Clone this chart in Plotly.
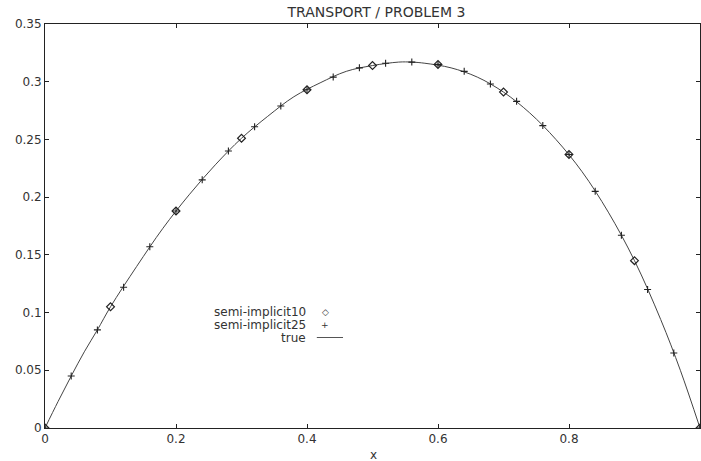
import plotly.graph_objects as go

# ---- data ----
x10 = [0.0, 0.1, 0.2, 0.3, 0.4, 0.5, 0.6, 0.7, 0.8, 0.9, 1.0]
y10 = [0.0, 0.105, 0.188, 0.251, 0.293, 0.314, 0.315, 0.291, 0.237, 0.145, 0.0]

x25 = [0.0, 0.04, 0.08, 0.12, 0.16, 0.20, 0.24, 0.28, 0.32, 0.36, 0.40, 0.44, 0.48,
       0.52, 0.56, 0.60, 0.64, 0.68, 0.72, 0.76, 0.80, 0.84, 0.88, 0.92, 0.96, 1.0]
y25 = [0.0, 0.045, 0.085, 0.122, 0.157, 0.188, 0.215, 0.240, 0.261, 0.279, 0.293, 0.304, 0.312,
       0.316, 0.317, 0.315, 0.309, 0.298, 0.283, 0.262, 0.237, 0.205, 0.167, 0.120, 0.065, 0.0]

xtrue = [0.0, 0.02, 0.04, 0.06, 0.08, 0.10, 0.14, 0.18, 0.22, 0.26, 0.30, 0.34, 0.38, 0.42,
         0.46, 0.50, 0.54, 0.56, 0.58, 0.62, 0.66, 0.70, 0.74, 0.78, 0.82, 0.86, 0.90, 0.94,
         0.97, 1.0]
ytrue = [0.0, 0.023, 0.045, 0.066, 0.085, 0.105, 0.140, 0.173, 0.202, 0.228, 0.251, 0.270, 0.287,
         0.299, 0.309, 0.314, 0.317, 0.317, 0.316, 0.312, 0.304, 0.291, 0.273, 0.250, 0.222, 0.187,
         0.145, 0.094, 0.050, 0.0]

xticks = [0, 0.2, 0.4, 0.6, 0.8]
xticktext = ["0", "0.2", "0.4", "0.6", "0.8"]
yticks = [0, 0.05, 0.1, 0.15, 0.2, 0.25, 0.3, 0.35]
yticktext = ["0", "0.05", "0.1", "0.15", "0.2", "0.25", "0.3", "0.35"]
legend_labels = ["semi-implicit10", "semi-implicit25", "true"]

FONT = "DejaVu Sans, Verdana, sans-serif"
INK = "#333333"

fig = go.Figure()
fig.add_trace(go.Scatter(x=xtrue, y=ytrue, mode="lines", line=dict(color="#444444", width=1, shape="spline"),
                         showlegend=False, hoverinfo="skip"))
fig.add_trace(go.Scatter(x=x10, y=y10, mode="markers",
                         marker=dict(symbol="diamond-open", size=6, color="#222222", line=dict(width=1.2)),
                         showlegend=False))
fig.add_trace(go.Scatter(x=x25, y=y25, mode="markers",
                         marker=dict(symbol="cross-thin-open", size=5, color="#222222",
                                     line=dict(width=1.1, color="#222222")),
                         showlegend=False))

# legend built as right-aligned text with the symbol after it
leg_y = [0.288, 0.256, 0.224]
leg_sym = ["◇", "+", ""]
for lab, yy, sym in zip(legend_labels, leg_y, leg_sym):
    fig.add_annotation(x=0.401, y=yy, xref="paper", yref="paper", text=lab, showarrow=False,
                       xanchor="right", yanchor="middle", font=dict(family=FONT, size=12, color=INK))
    if sym:
        fig.add_annotation(x=0.428, y=yy, xref="paper", yref="paper", text=sym, showarrow=False,
                           xanchor="center", yanchor="middle", font=dict(family="DejaVu Sans", size=9, color=INK))
fig.add_shape(type="line", xref="paper", yref="paper", x0=0.415, x1=0.455, y0=leg_y[2], y1=leg_y[2],
              line=dict(color="#555555", width=1))

# x axis title
fig.add_annotation(x=0.501, y=-0.067, xref="paper", yref="paper", text="x", showarrow=False,
                   xanchor="center", yanchor="middle", font=dict(family=FONT, size=12, color=INK))

fig.update_layout(
    width=701, height=461,
    margin=dict(l=45, r=1, t=24, b=33),
    paper_bgcolor="white", plot_bgcolor="white",
    showlegend=False,
    title=dict(text="TRANSPORT / PROBLEM 3", x=0.537, xanchor="center", y=0.974, yanchor="middle",
               font=dict(family=FONT, size=14, color=INK)),
    font=dict(family=FONT, size=12, color=INK),
)
fig.update_xaxes(range=[0, 1], tickvals=xticks, ticktext=xticktext,
                 ticks="inside", ticklen=4, tickcolor="#222222", showgrid=False, zeroline=False,
                 showline=True, linecolor="#222222", linewidth=1, mirror="ticks",
                 tickfont=dict(family=FONT, size=12, color=INK))
fig.update_yaxes(range=[0, 0.35], tickvals=yticks, ticktext=yticktext,
                 ticks="inside", ticklen=4, tickcolor="#222222", showgrid=False, zeroline=False,
                 showline=True, linecolor="#222222", linewidth=1, mirror="ticks",
                 tickfont=dict(family=FONT, size=12, color=INK))

fig.write_html("out.html")
